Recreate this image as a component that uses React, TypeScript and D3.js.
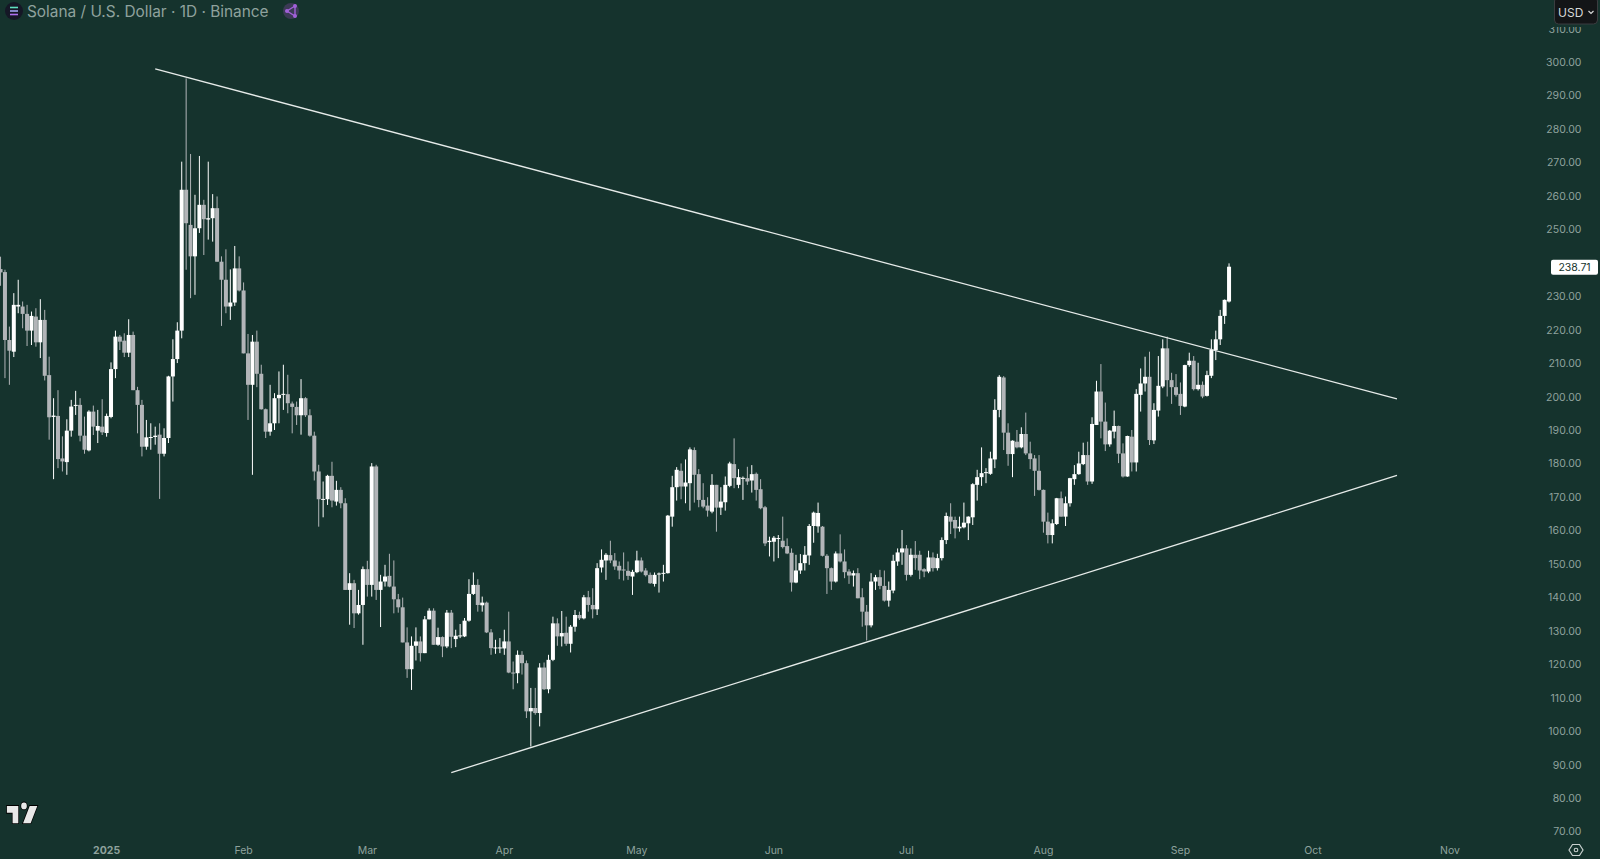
import React from 'react';
import { scaleLinear, scaleUtc, line } from 'd3';

const width = 1600;
const height = 859;
const bg = '#15332d';
const upColor = '#ffffff';
const downColor = '#b2b5b8';
const textColor = '#8fa29d';
const font = 'Inter, sans-serif';

// SOL/USD daily candles, first one is 2024-12-08
const firstDay = Date.UTC(2024, 11, 8);
const DAY = 86400000;

const opens = [
  238.2,237.3,217,213.5,227,227,224.8,219.8,224,216.3,
  223,206.5,194,194.3,181.6,180.5,189.9,197.4,197.6,188.4,
  184,195.6,189.9,191.1,189.2,194,208.3,218,216.8,213.2,
  218.5,202,197.6,185.1,187.7,188,188.7,183,187.7,206.1,
  211.3,219.8,261.9,251.4,242,250.4,257.4,253,253.4,256.4,
  240.4,235,227,228.2,238.4,231.8,213,203.6,216.5,206.9,
  196.3,189.6,192.1,199.6,200.7,200.8,198,197,194.5,199.6,
  194.5,188.4,177.7,169.4,169.4,176.4,168.7,172.2,168.2,142.3,
  144.3,135.3,137.8,148.5,143.8,179.2,142.3,144.8,146.5,143.3,
  139.5,137.1,126.6,118.6,125.6,126.9,123.4,133.5,136.1,125.9,
  128.2,125.4,135.5,127.6,128.5,128.4,133.1,141.1,143.8,137.7,
  138.5,129.6,124.9,125,124.8,126.9,117.6,117.4,122.9,120.4,
  106,107,105.5,119.1,112.6,121.4,132.3,128.4,129.5,126.2,
  131.3,134.8,133.8,140.1,137.8,136.5,149,151.1,152.7,151.1,
  149.5,148.4,148,146.3,147.6,151.1,148.1,146.8,144.1,147,
  147.2,147.3,164.2,173,177.9,173.2,174.2,184.1,176.9,169.2,
  167.5,165.7,173.7,166.9,168.5,173.4,179.9,173.7,175.6,175.7,
  175,177,172.4,167,156.6,156.7,157.6,157,155.4,153.4,
  144.5,148.1,150.3,152.6,161.4,161.3,161.2,152.5,148.8,144.8,
  153.2,150.8,147.8,146.6,147.3,140.1,135.8,131.7,144.8,146.1,
  143.5,139.1,142.1,150.8,153.5,154.7,146.8,152.8,152.8,148.5,
  147.8,152,148.8,151.8,157.2,164.2,163.2,160.7,161,162.2,
  164,173.7,176,177.2,177,181.3,196.1,205.8,189.3,182.9,
  186.6,184.9,188.9,183.1,181.6,177.9,172.2,162.7,158.7,162,
  169.7,164.2,168.2,175.4,176.9,179.9,182.6,174.7,191.6,201.6,
  192.6,185.8,189.6,191.3,183.1,176.2,188.1,180.4,200.6,204,
  206,187,195.9,203.1,214.5,205,202.9,200.9,197.1,209.5,
  210.8,202.3,203.6,200.3,206.3,214,217.2,224.2,228.5,
];

const highs = [
  241.9,238,221,231,235,228.5,227.5,225.5,226.5,229.2,
  226,212,199.6,202,188.2,193.3,199.1,201.8,199.6,194.1,
  196,197.4,196.1,199.3,195,210.3,219.8,218.5,219,223.2,
  219.5,203,199.1,193.1,192.1,191.1,192.1,190.6,206.3,217.2,
  222.3,270.3,295.2,272.6,260.4,272,258.9,270.3,260.6,259.9,
  242,244.1,238.1,245.1,242,234.2,218.8,218.5,219.8,209.6,
  196.5,203.6,201.1,207.6,209.6,206.6,198.6,198.6,205.3,199.9,
  196.3,189.6,179.7,174.7,176.7,180.6,174.9,173,169.7,147.3,
  145.3,142.3,149.3,151,180.2,179.7,146.8,149.8,153.1,151.1,
  141.1,140,131.1,128.4,131.1,128.4,134.5,136.8,136.8,131,
  128.4,136.3,136.3,130.4,132.1,133.9,145.5,147.5,145.5,140.3,
  138.8,130.6,127.4,127.9,130.4,135.8,120.9,124.2,124,121.2,
  113,113,120.4,120.6,122.9,134.3,133.8,136,134.3,131.8,
  136.3,135.8,140.8,142,142.8,150.3,154.4,153.3,157,153.3,
  150.8,153.5,150.8,148.3,154,152,148.8,147.5,147.5,147.5,
  149.8,164.7,176.4,179,180.1,181.3,184.9,184.9,178.4,174.2,
  170,176.9,173.7,173,176.2,180.6,187.6,178.4,176.2,179.1,
  179.6,177.4,175.4,167.4,158.2,158.4,158.7,164.2,157.7,154.7,
  152.8,153,155.4,162,165.7,168.4,161.4,153,149,153.8,
  158.9,154.4,148.5,148.1,148.8,142.8,137.8,147.3,146.8,148.3,
  148.1,144.8,152.8,154.7,160.2,155.7,154.7,156.9,154,148.8,
  154,153.5,153.1,158,165.4,168.2,164.2,164.2,168.4,164.3,
  174.2,178.2,184.9,178.7,183.6,199.3,206.5,206.2,192.1,187,
  190.1,190.9,195.3,186.6,182.6,182.6,172.3,165.4,163.4,169.8,
  171.7,170.2,175.8,179.6,183.6,186.3,186.6,193.9,204.8,209.8,
  198.3,190.1,195.9,191.4,186.1,188.4,190.1,202.3,208.5,212,
  213.5,198.1,212.2,217.2,218,207.2,206.8,204.3,209.6,213.2,
  212.2,210.2,204.6,207.8,217.2,219.8,226,229.1,239.9,
];

const lows = [
  233.2,205.6,203.6,211.9,225,220.5,215.2,215.5,215,211.6,
  204.9,187.2,175.4,178.7,177.7,176.7,188.1,194.6,186.7,183,
  183.7,188.6,186.2,188.6,188.1,193.6,205.6,214,211.9,211.9,
  202,189.1,182.2,184.2,184.2,185.7,169.5,182.2,186.2,198.6,
  210.1,217.5,238,229.5,230.5,249,242.4,247,246.4,240.4,
  221.2,225,223,227.2,231.5,213,193.1,176.7,202.9,196.2,
  187.7,188.4,190.1,192.1,196.1,195.1,189.1,191.6,188.7,194,
  188.1,175,161.2,164,167.7,167,167.5,166.7,142.3,131.9,
  130.9,134.9,125.9,140.3,140.3,139.3,131.2,143.3,143.1,135.3,
  135.5,126.6,116,112.4,121.2,120.9,123.4,133.5,125.9,125.6,
  122.2,124.9,124.9,125.2,127.9,128.2,132.8,140.8,135.8,135.8,
  129.4,122.9,123.2,123.4,122.9,117.4,112.6,114.4,117,104,
  95.5,105,101.5,112.4,111.4,121,125.6,125.4,125.6,123.6,
  129.8,133.3,133.5,135.8,133.8,134.8,147.5,145.3,150.3,148.3,
  145.5,145.1,145.3,140.8,147.3,147.5,146.3,144.1,143.3,141.5,
  144.8,147.2,161.2,169,169.4,168.2,166,168.4,167,166.7,
  164.2,165.2,159.7,164.7,166,173,172.7,172.7,169.2,173.7,
  171.4,169,166.4,155.4,152.3,150.8,151.8,154.7,153,141.8,
  144.3,147.1,148.1,149.8,156.4,159.4,152.3,141.1,142.3,144.5,
  150.5,145.8,144.1,143.3,139.8,131.3,127.2,131.1,142.3,142.5,
  138.8,137.3,141.3,149.5,149.8,145.1,146.3,148.3,145.5,146.1,
  147.3,147.8,148.1,151.1,156,159,157.7,159.7,160.7,157.2,
  161.7,169,173.4,174.2,176.7,178.7,193.9,184.1,179.4,176,
  184.6,184.6,182.6,178.4,170.4,172,159.4,156.2,156.2,161.7,
  164.2,161.4,167.2,173.7,176.7,179.6,173.7,174,191.6,187.6,
  183.8,185.1,187.6,180.2,175.9,176.1,177.7,177.7,195.6,201.6,
  185.6,185.9,194.1,202.6,200.1,197.9,200.1,194.6,196.9,209,
  201.9,201.9,199.6,200.1,205.6,211,215.5,221.8,228.2,
];

const closes = [
  237.2,217,213.8,227.5,227.5,224.8,219.8,224.2,216.3,223,
  206.3,193.9,194.4,181.4,180.7,189.9,197.1,197.6,188.4,184.2,
  195.6,191.1,191.3,189.4,194.3,208.3,218,216.5,213.2,218.5,
  202,197.6,185.1,187.9,188,188.4,183,187.7,206.1,211.3,
  219.8,261.9,251.9,242,250.4,257.4,253.1,253.4,256.4,240.4,
  235,227,228.2,238.4,231.8,213,203.6,216.5,206.9,196.3,
  189.6,192.1,199.6,200.6,200.9,198.1,197,194.5,199.6,194.5,
  188.4,177.7,169.4,169.5,176.4,169,172.2,168.2,142.3,144.3,
  135.3,137.8,148.5,143.8,179.2,142.3,144.8,146.3,143.3,139.5,
  137.1,126.6,118.6,125.6,126.9,123.4,133.5,136.1,125.9,128.2,
  125.4,135.5,128.3,128.6,128.7,133.1,141.1,143.8,137.8,138.5,
  129.6,124.9,125.1,125.1,126.9,117.6,117.4,122.9,120.4,106,
  107,105.5,119.1,112.6,121.4,132.3,128.4,129.4,126.2,131.3,
  134.8,133.8,140.1,137.8,136.5,148.8,151.3,152.8,151.1,149.3,
  148.1,148.1,146.5,147.7,151.1,147.8,146.7,144.3,146.8,147.2,
  147.4,164.5,173,178.2,173.2,174.4,184.3,176.7,169.2,167.2,
  166,173.7,166.9,168.7,173.7,180.1,175.7,176,175.8,174.7,
  176.9,172.2,166.7,156.2,157,157.9,157.8,155.1,153.2,144.5,
  148.1,150.3,152.8,161.4,165.4,165.3,152.5,148.8,144.8,153.2,
  150.8,147.6,146.6,147.3,139.8,135.8,131.7,144.8,146.1,143.5,
  139.1,142.3,151,153.5,154.7,146.8,152.8,151.8,148.1,147.8,
  152,148.8,151.8,157.2,164.4,162.7,160.7,161.2,162.4,164.2,
  173.9,176,177.2,177.5,181.6,196.1,206,189.3,182.9,186.9,
  184.9,188.9,183.1,181.4,177.9,172.2,162.7,158.7,162.2,169.7,
  164.2,168.2,175.7,176.9,180.1,182.6,174.7,191.9,201.6,192.6,
  185.8,189.9,191.3,183,176.2,188.3,180.4,200.9,204,206,
  187.1,196.1,203.3,214.5,205,202.9,200.6,197.3,209.5,210.8,
  202.3,203.6,200.1,206.5,214,217.2,224.2,229,238.9,
];

// 240 sits under the last price tag in the original, so it is left out
const priceTicks = [70, 80, 90, 100, 110, 120, 130, 140, 150, 160, 170, 180, 190, 200, 210, 220, 230, 250, 260, 270, 280, 290, 300, 310];
const monthLabels = ['2025', 'Feb', 'Mar', 'Apr', 'May', 'Jun', 'Jul', 'Aug', 'Sep', 'Oct', 'Nov'];
const monthDates = [0, 1, 2, 3, 4, 5, 6, 7, 8, 9, 10].map(m => new Date(Date.UTC(2025, m, 1)));
const lastPrice = 238.71;

// trendlines as [date, price]
const upperTrend: [Date, number][] = [[new Date(Date.UTC(2025, 0, 12)), 298], [new Date(Date.UTC(2025, 9, 20)), 199.4]];
const lowerTrend: [Date, number][] = [[new Date(Date.UTC(2025, 2, 20)), 87.7], [new Date(Date.UTC(2025, 9, 20)), 176.5]];

const x = scaleUtc()
  .domain([new Date(Date.UTC(2025, 0, 1)), new Date(Date.UTC(2025, 10, 1))])
  .range([106.6, 1450]);
const y = scaleLinear().domain([70, 300]).range([831.8, 62.3]);

const trendPath = line<[Date, number]>().x(d => x(d[0])).y(d => y(d[1]));

export default function App() {
  const bodyW = 4;
  return (
    <svg width={width} height={height} style={{ position: 'absolute', left: 0, top: 0, background: bg, fontFamily: font }}>
      <rect width={width} height={height} fill={bg} />

      {/* candles */}
      <g>
        {opens.map((o, i) => {
          const c = closes[i];
          const cx = x(new Date(firstDay + i * DAY));
          const col = c >= o ? upColor : downColor;
          const top = y(Math.max(o, c));
          const bot = y(Math.min(o, c));
          return (
            <g key={i}>
              <line x1={cx} x2={cx} y1={y(highs[i])} y2={y(lows[i])} stroke={col} strokeWidth={1} />
              <rect x={cx - bodyW / 2} y={top} width={bodyW} height={Math.max(bot - top, 1)} fill={col} />
            </g>
          );
        })}
      </g>

      {/* trendlines */}
      <path d={trendPath(upperTrend) as string} stroke="#e6ebe9" strokeWidth={1.3} fill="none" />
      <path d={trendPath(lowerTrend) as string} stroke="#e6ebe9" strokeWidth={1.3} fill="none" />

      {/* price axis */}
      {priceTicks.map(t => (
        <text key={t} x={1581.5} y={y(t)} dy="0.35em" textAnchor="end" fontSize={10.5} fill={textColor}>
          {t.toFixed(2)}
        </text>
      ))}

      {/* last price tag */}
      <rect x={1551} y={y(lastPrice) - 7.5} width={47} height={15} rx={2} fill="#ffffff" />
      <text x={1574.5} y={y(lastPrice)} dy="0.35em" textAnchor="middle" fontSize={10.5} fill="#15332d">
        {lastPrice.toFixed(2)}
      </text>

      {/* month axis */}
      {monthLabels.map((m, i) => (
        <text key={m} x={x(monthDates[i])} y={854} textAnchor="middle" fontSize={10.5} fontWeight={i === 0 ? 700 : 400} fill={textColor}>
          {m}
        </text>
      ))}

      {/* header */}
      <circle cx={14} cy={11} r={9} fill="#151726" />
      <g strokeWidth={1.6}>
        <line x1={10} x2={18} y1={7.5} y2={7.5} stroke="#5fe0c0" />
        <line x1={10} x2={18} y1={11} y2={11} stroke="#a0a0f0" />
        <line x1={10} x2={18} y1={14.5} y2={14.5} stroke="#b070f0" />
      </g>
      <text x={27} y={17} fontSize={15.4} fill={textColor}>Solana / U.S. Dollar · 1D · Binance</text>
      <circle cx={291} cy={11} r={8} fill="#3b3a55" />
      <g stroke="#a060d8" strokeWidth={1.4} fill="#a060d8">
        <path d="M295 6 L287 11 L295 16 Z" fill="none" />
        <circle cx={295} cy={6} r={1.3} />
        <circle cx={287} cy={11} r={1.3} />
        <circle cx={295} cy={16} r={1.3} />
      </g>

      {/* currency button, clips the top of the 310 label */}
      <rect x={1548} y={0} width={52} height={27} fill={bg} />
      <rect x={1554.5} y={-3} width={43} height={27} rx={4} fill="#131517" stroke="#3a3d40" />
      <text x={1558} y={16.5} fontSize={12} fill="#d6d8d8">USD</text>
      <path d="M1588.5 11 L1591 13.5 L1593.5 11" stroke="#d6d8d8" strokeWidth={1.2} fill="none" />

      {/* TradingView logo */}
      <g transform="translate(5,799) scale(0.95,1.15)">
        <path
          d="M14 6H2v6h6v9h6V6Zm13 15h-8l7-15h8l-7 15Zm-7-12a3 3 0 1 0 0-6 3 3 0 0 0 0 6Z"
          fill="#e8e8e8"
          stroke="#000"
          strokeWidth={1.5}
          paintOrder="stroke"
        />
      </g>

      {/* settings gear */}
      <path d="M1569 850 L1572.5 844.5 L1579.5 844.5 L1583 850 L1579.5 855.5 L1572.5 855.5 Z" fill="none" stroke="#c8d0ce" strokeWidth={1.2} />
      <circle cx={1576} cy={850} r={1.8} fill="none" stroke="#c8d0ce" strokeWidth={1.1} />
    </svg>
  );
}
